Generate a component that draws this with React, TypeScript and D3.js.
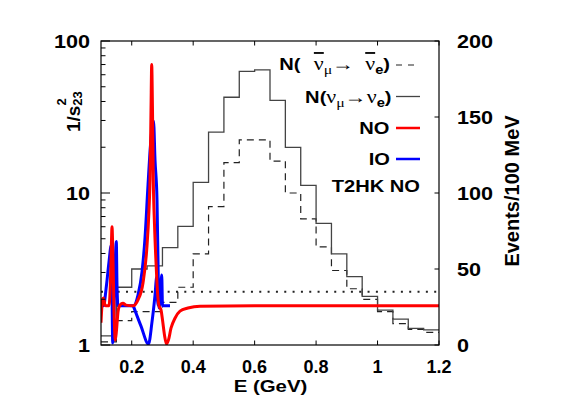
import React from "react";
import * as d3 from "d3";

// ---------- data ----------
const binLo = [0.10, 0.15, 0.20, 0.25, 0.30, 0.35, 0.40, 0.45, 0.50, 0.55, 0.60, 0.65, 0.70, 0.75, 0.80, 0.85, 0.90, 0.95, 1.00, 1.05, 1.10, 1.15];
const binEnd = 1.2;
const nuCounts = [6, 38, 50, 52, 64, 78, 107, 140, 163, 180, 181, 161, 130, 105, 80, 60, 45, 32, 23, 17, 11, 10];
const nubarCounts = [2, 16, 22, 22, 28, 38, 60, 91, 120, 135, 135, 121, 100, 83, 64.5, 49, 37, 30, 22, 14, 10.3, 8.3];

const noE = [0.1000, 0.1049, 0.1081, 0.1130, 0.1163, 0.1260, 0.1309, 0.1342, 0.1358, 0.1391, 0.1423, 0.1465, 0.1504, 0.1553, 0.1602, 0.1651, 0.1716, 0.1814, 0.2041, 0.2204, 0.2367, 0.2487, 0.2562, 0.2595, 0.2627, 0.2650, 0.2676, 0.2702, 0.2741, 0.2790, 0.2839, 0.2888, 0.2953, 0.3002, 0.3067, 0.3132, 0.3197, 0.3278, 0.3408, 0.3571, 0.3831, 0.4222, 0.6, 1.2];
const noV = [1.40, 1.98, 2.04, 1.83, 1.81, 1.81, 2.68, 4.9, 6.0, 3.6, 1.70, 1.08, 1.25, 1.65, 1.81, 1.86, 1.88, 1.83, 1.81, 1.98, 2.56, 4.2, 7.7, 12.2, 35, 70, 35, 12.2, 6.2, 3.5, 2.23, 1.81, 1.70, 1.46, 1.16, 1.015, 1.08, 1.29, 1.50, 1.67, 1.75, 1.80, 1.81, 1.81];

const ioE = [0.1000, 0.1081, 0.1179, 0.1260, 0.1335, 0.1358, 0.1381, 0.1413, 0.1465, 0.1498, 0.1521, 0.1553, 0.2051, 0.2204, 0.2334, 0.2432, 0.2530, 0.2611, 0.2709, 0.2758, 0.2823, 0.2865, 0.2894, 0.2927, 0.2976, 0.3002, 0.3246];
const ioV = [1.89, 1.81, 2.48, 3.52, 4.54, 2.30, 1.03, 1.46, 3.62, 4.8, 2.48, 1.81, 1.81, 2.13, 3.02, 5.06, 11.3, 20.7, 29.8, 16.5, 9.0, 2.68, 1.75, 1.98, 2.89, 1.81, 1.81];
const ioBranchE = [0.2051, 0.2302, 0.2546, 0.2660, 0.2758, 0.2813, 0.2839, 0.2872];
const ioBranchV = [1.81, 1.33, 1.015, 1.42, 2.13, 2.80, 1.98, 1.81];

const t2hkLevel = 2.24;

const xTicks = [0.2, 0.4, 0.6, 0.8, 1.0, 1.2];
const xTickLabels = ["0.2", "0.4", "0.6", "0.8", "1", "1.2"];
const yLeftTicks = [1, 10, 100];
const yLeftMinor = [2, 3, 4, 5, 6, 7, 8, 9, 20, 30, 40, 50, 60, 70, 80, 90];
const yRightTicks = [0, 50, 100, 150, 200];

// ---------- layout ----------
const W = 572, H = 401;
const L = 101, R = 439, T = 41, B = 345;
const SANS = "'Liberation Sans', Arial, Helvetica, sans-serif";
const SERIF = "'Liberation Serif', 'DejaVu Serif', serif";

export default function App() {
  const x = d3.scaleLinear().domain([0.1, 1.2]).range([L, R]);
  const yL = d3.scaleLog().domain([1, 100]).range([B, T]);
  const yR = d3.scaleLinear().domain([0, 200]).range([B, T]);

  const hist = (counts: number[]) => {
    const pts: [number, number][] = binLo.map((e, i) => [e, counts[i]]);
    pts.push([binEnd, counts[counts.length - 1]]);
    return d3.line<[number, number]>().x(d => x(d[0])).y(d => yR(d[1])).curve(d3.curveStepAfter)(pts) || "";
  };
  const curve = (es: number[], vs: number[]) =>
    d3.line<number>().x((_, i) => x(es[i])).y((_, i) => yL(vs[i])).curve(d3.curveMonotoneX)(es.map((_, i) => i)) || "";

  const legendRows = [65, 96.5, 128, 159, 187];
  const legX = 390;

  return (
    <svg width={W} height={H} style={{ position: "absolute", left: 0, top: 0, background: "#fff" }} fontFamily={SANS}>
      <defs>
        <clipPath id="plot"><rect x={L} y={T} width={R - L} height={B - T} /></clipPath>
      </defs>
      <g clipPath="url(#plot)">
        <path d={hist(nubarCounts)} fill="none" stroke="#222" strokeWidth={1.2} strokeDasharray="7,5" />
        <path d={hist(nuCounts)} fill="none" stroke="#444" strokeWidth={1.3} />
        <line x1={L} x2={R} y1={yL(t2hkLevel)} y2={yL(t2hkLevel)} stroke="#222" strokeWidth={2} strokeDasharray="2,6.33" />
        <path d={curve(ioBranchE, ioBranchV)} fill="none" stroke="#0000ff" strokeWidth={3} />
        <path d={curve(ioE, ioV)} fill="none" stroke="#0000ff" strokeWidth={3} />
        <path d={curve(noE, noV)} fill="none" stroke="#ff0000" strokeWidth={3} />
      </g>
      {/* frame */}
      <rect x={L} y={T} width={R - L} height={B - T} fill="none" stroke="#000" strokeWidth={1.2} />
      {/* x ticks */}
      {xTicks.map((t, i) => (
        <g key={"xt" + i}>
          <line x1={x(t)} x2={x(t)} y1={B} y2={B - 4.5} stroke="#000" />
          <line x1={x(t)} x2={x(t)} y1={T} y2={T + 4.5} stroke="#000" />
          <text x={x(t)} y={372.5} textAnchor="middle" fontSize={18} fontWeight="bold">{xTickLabels[i]}</text>
        </g>
      ))}
      {/* left ticks */}
      {yLeftMinor.map((t, i) => (
        <line key={"lm" + i} x1={L} x2={L + 4.5} y1={yL(t)} y2={yL(t)} stroke="#000" />
      ))}
      {yLeftTicks.map((t, i) => (
        <g key={"lt" + i}>
          <line x1={L} x2={L + 9} y1={yL(t)} y2={yL(t)} stroke="#000" />
          <g transform={`translate(90,${yL(t) + 6.5}) scale(1.2,1)`}>
            <text textAnchor="end" fontSize={18} fontWeight="bold">{String(t)}</text>
          </g>
        </g>
      ))}
      {/* right ticks */}
      {yRightTicks.map((t, i) => (
        <g key={"rt" + i}>
          <line x1={R} x2={R - 4.5} y1={yR(t)} y2={yR(t)} stroke="#000" />
          <g transform={`translate(457,${yR(t) + 6.5}) scale(1.2,1)`}>
            <text textAnchor="start" fontSize={18} fontWeight="bold">{String(t)}</text>
          </g>
        </g>
      ))}
      {/* axis titles */}
      <g transform="translate(270.5,391.5) scale(1.2,1)">
        <text textAnchor="middle" fontSize={17} fontWeight="bold">E (GeV)</text>
      </g>
      <g transform="translate(80,132) rotate(-90)">
        <text fontSize={19} fontWeight="bold">1/s<tspan dy={-14} fontSize={13}>2</tspan><tspan dx={-7.3} dy={16} fontSize={13}>23</tspan></text>
      </g>
      <g transform="translate(519,191) rotate(-90)">
        <text textAnchor="middle" fontSize={20} fontWeight="bold">Events/100 MeV</text>
      </g>
      {/* legend */}
      <g transform={`translate(${legX},${legendRows[0] + 5}) scale(1.22,1)`}>
        <text textAnchor="end" fontSize={16.5} fontWeight="bold">
          N(
          <tspan dx={11} fontFamily={SERIF} fontWeight="normal" fontSize={18} style={{ textDecoration: "overline" }}>ν</tspan>
          <tspan dy={4} fontFamily={SERIF} fontWeight="normal" fontSize={13}>μ</tspan>
          <tspan dy={-4} fontFamily={SERIF} fontWeight="normal" fontSize={18}>→</tspan>
          <tspan dx={9} fontFamily={SERIF} fontWeight="normal" fontSize={18} style={{ textDecoration: "overline" }}>ν</tspan>
          <tspan dy={4} fontSize={12}>e</tspan>
          <tspan dy={-4}>)</tspan>
        </text>
      </g>
      <line x1={396} x2={420} y1={legendRows[0]} y2={legendRows[0]} stroke="#222" strokeWidth={1.2} strokeDasharray="6,6" />
      <g transform={`translate(${legX + 1.5},${legendRows[1] + 6}) scale(1.22,1)`}>
        <text textAnchor="end" fontSize={16.5} fontWeight="bold">
          N(
          <tspan fontFamily={SERIF} fontWeight="normal" fontSize={18}>ν</tspan>
          <tspan dy={4} fontFamily={SERIF} fontWeight="normal" fontSize={13}>μ</tspan>
          <tspan dy={-4} fontFamily={SERIF} fontWeight="normal" fontSize={18}>→</tspan>
          <tspan fontFamily={SERIF} fontWeight="normal" fontSize={18}>ν</tspan>
          <tspan dy={4} fontSize={12}>e</tspan>
          <tspan dy={-4}>)</tspan>
        </text>
      </g>
      <line x1={396} x2={420} y1={legendRows[1]} y2={legendRows[1]} stroke="#444" strokeWidth={1.3} />
      <g transform={`translate(${legX - 0.5},${legendRows[2] + 6}) scale(1.22,1)`}>
        <text textAnchor="end" fontSize={16.5} fontWeight="bold">NO</text>
      </g>
      <line x1={396} x2={420} y1={legendRows[2]} y2={legendRows[2]} stroke="#ff0000" strokeWidth={2.5} />
      <g transform={`translate(${legX},${legendRows[3] + 6}) scale(1.22,1)`}>
        <text textAnchor="end" fontSize={16.5} fontWeight="bold">IO</text>
      </g>
      <line x1={396} x2={420} y1={legendRows[3]} y2={legendRows[3]} stroke="#0000ff" strokeWidth={2.5} />
      <g transform={`translate(420,${legendRows[4] + 5}) scale(1.22,1)`}>
        <text textAnchor="end" fontSize={16.5} fontWeight="bold">T2HK NO</text>
      </g>
    </svg>
  );
}
